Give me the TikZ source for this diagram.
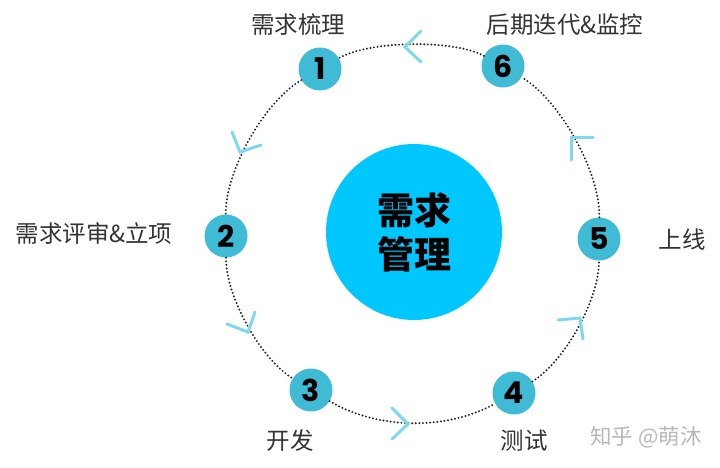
\documentclass[tikz,border=0pt]{standalone}
\usepackage{fontspec}
\setmainfont{Noto Sans CJK SC}
\newfontfamily\numfont{Poppins}
\definecolor{stepblue}{HTML}{3FBBD6}
\definecolor{hubblue}{HTML}{00C8FF}
\definecolor{chevblue}{HTML}{7FD8EE}
\tikzset{
  stepnode/.style={circle,fill=stepblue,minimum size=43pt,inner sep=0pt,font=\numfont\fontsize{30}{30}\selectfont\bfseries,text=black},
  hubnode/.style={circle,fill=hubblue,minimum size=176pt,inner sep=0pt,align=center,font=\fontsize{37}{44}\selectfont\bfseries,text=black},
  steplabel/.style={inner sep=0pt,font=\fontsize{23.5}{24}\selectfont,text=black!80},
  ringarc/.style={line width=2.2pt,line cap=round,dash pattern=on 0pt off 3.6pt,black!85},
  chevron/.style={line width=3pt,chevblue,line cap=round,line join=miter}
}
\begin{document}
\begin{tikzpicture}[x=1pt,y=-1pt]
\useasboundingbox (0,0) rectangle (720,467);
\node[hubnode] (hub) at (414,232) {需求\\管理};
\node[stepnode] (n1) at (320,69) {1};
\node[stepnode] (n2) at (226,236) {2};
\node[stepnode] (n3) at (311,390) {3};
\node[stepnode] (n4) at (514,393) {4};
\node[stepnode] (n5) at (599,239) {5};
\node[stepnode] (n6) at (503,66) {6};
\node[steplabel] (l1) at (298,25) {需求梳理};
\node[steplabel] (l2) at (94,234) {需求评审\&立项};
\node[steplabel] (l3) at (290,441) {开发};
\node[steplabel] (l4) at (524,441) {测试};
\node[steplabel] (l5) at (682,240) {上线};
\node[steplabel] (l6) at (565,25) {后期迭代\&监控};
\node[inner sep=0pt,font=\fontsize{21.5}{22}\selectfont,text=black!28] (mark) at (646,437) {知乎 @萌沐};
\draw[ringarc] (n6) to[bend right=29,looseness=0.62] (n1);
\draw[ringarc] (n1) to[bend right=30,looseness=0.72] (n2);
\draw[ringarc] (n2) to[bend right=29,looseness=0.72] (n3);
\draw[ringarc] (n3) to[bend right=30,looseness=0.86] (n4);
\draw[ringarc] (n4) to[bend right=29,looseness=0.72] (n5);
\draw[ringarc] (n5) to[bend right=30,looseness=0.72] (n6);
\draw[chevron] (421,31) -- (405,47) -- (421,62);
\draw[chevron] (232,132) -- (240,152) -- (261,145);
\draw[chevron] (255,312) -- (248,332) -- (227,324);
\draw[chevron] (392,408) -- (408,424) -- (392,439);
\draw[chevron] (558,320) -- (580,318) -- (583,339);
\draw[chevron] (593,137.4) -- (571.4,137.4) -- (571.4,160);
\end{tikzpicture}
\end{document}
